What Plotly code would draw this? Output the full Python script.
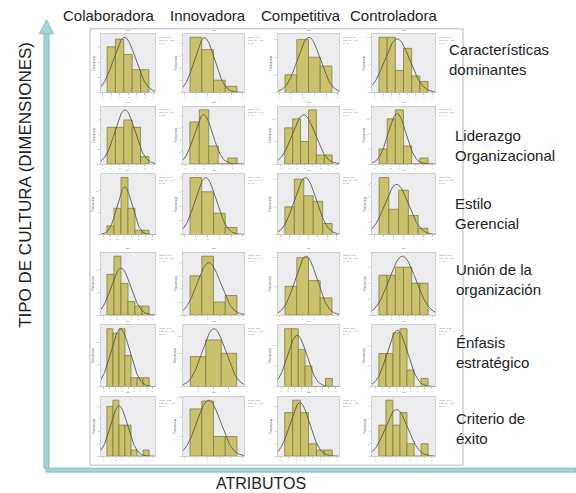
import numpy as np
import plotly.graph_objects as go

W, H = 576, 493

# ---------------- data (frequencies) ----------------
columnas = ["Colaboradora", "Innovadora", "Competitiva", "Controladora"]
dimensiones = ["Características<br>dominantes", "Liderazgo<br>Organizacional",
               "Estilo<br>Gerencial", "Unión de la<br>organización",
               "Énfasis<br>estratégico", "Criterio de<br>éxito"]

caracteristicas_dominantes = [[6, 7, 5, 3, 3], [9, 7, 2, 1], [2, 6, 4, 3], [10, 10, 4, 8, 3, 2]]
liderazgo_organizacional = [[5, 5, 6, 5, 1], [7, 9, 3, 0, 1], [8, 10, 5, 12, 2, 2], [5, 15, 18, 6, 0, 2]]
estilo_gerencial = [[2, 6, 13, 6, 1, 1], [8, 6, 3, 1], [5, 10, 7, 6, 2], [9, 4, 7, 3, 1]]
union_organizacion = [[9, 13, 7, 3, 2, 2], [6, 9, 2, 3], [5, 10, 6, 3], [5, 5, 6, 6, 4, 4]]
enfasis_estrategico = [[13, 12, 13, 7, 2, 2, 2], [9, 14, 10], [14, 14, 9, 5, 0, 0, 2], [8, 8, 13, 14, 4, 0, 2]]
criterio_exito = [[8, 9, 5, 5, 1, 0, 1], [12, 14, 5, 5], [7, 9, 7, 2, 1, 1], [5, 9, 5, 7, 2, 0, 2]]

filas = [caracteristicas_dominantes, liderazgo_organizacional, estilo_gerencial,
         union_organizacion, enfasis_estrategico, criterio_exito]

# ---------------- layout geometry (pixels) ----------------
col_px = [(101, 155), (183, 244), (278, 339), (372, 435)]
row_px = [(33, 92), (106, 164), (174, 235), (253, 316), (326, 388), (398, 458)]
label_y = [(50, 68), (137, 154), (205, 222), (272, 288), (345, 362), (422, 439)]
label_x = [447, 453, 453, 454, 454, 454]
header_x = [109, 208, 301, 393]


def px(x):
    return x / W


def py(y):
    return 1 - y / H


BAR = "#c9c16b"
BAR_LINE = "#77723d"
CURVE = "#5c5c4a"

fig = go.Figure()
layout = dict(
    width=W, height=H, margin=dict(l=0, r=0, t=0, b=0),
    paper_bgcolor="white", plot_bgcolor="#ececee", showlegend=False,
    font=dict(family="Liberation Sans, Arial, sans-serif", color="#222"),
)
annotations = []
shapes = []

# outer white frame
shapes.append(dict(type="rect", xref="paper", yref="paper",
                   x0=px(90), x1=px(463), y0=py(467), y1=py(28),
                   line=dict(color="#b8b8b8", width=1), fillcolor="rgba(0,0,0,0)", layer="below"))

for r, fila in enumerate(filas):
    for c, counts in enumerate(fila):
        i = r * 4 + c + 1
        xa = "x" if i == 1 else f"x{i}"
        ya = "y" if i == 1 else f"y{i}"
        counts = np.array(counts, dtype=float)
        n = len(counts)
        centers = np.arange(1, n + 1, dtype=float)
        N = counts.sum()
        mean = (counts * centers).sum() / N
        sd = np.sqrt((counts * (centers - mean) ** 2).sum() / N)
        pad = 0.125 * n + 0.1
        x0, x1 = 0.5 - pad, n + 0.5 + pad
        xs = np.linspace(x0, x1, 120)
        ys = N / (sd * np.sqrt(2 * np.pi)) * np.exp(-0.5 * ((xs - mean) / sd) ** 2)
        ymax = max(counts.max(), ys.max()) / 0.94

        fig.add_trace(go.Bar(x=centers, y=counts, width=1.0, xaxis=xa, yaxis=ya,
                             marker=dict(color=BAR, line=dict(color=BAR_LINE, width=0.7)),
                             hoverinfo="skip"))
        fig.add_trace(go.Scatter(x=xs, y=ys, mode="lines", xaxis=xa, yaxis=ya,
                                 line=dict(color=CURVE, width=0.9), hoverinfo="skip"))

        xl, xr = col_px[c]
        yt, yb = row_px[r]
        axfont = dict(size=2.5, color="#888")
        layout["xaxis" if i == 1 else f"xaxis{i}"] = dict(
            domain=[px(xl), px(xr)], anchor=ya, range=[x0, x1],
            showgrid=False, zeroline=False, showline=True, mirror=True,
            linecolor="#b0b0b0", linewidth=0.6, ticks="outside", ticklen=1.5,
            tickcolor="#888", tickwidth=0.5, tickfont=axfont, dtick=1)
        layout["yaxis" if i == 1 else f"yaxis{i}"] = dict(
            domain=[py(yb), py(yt)], anchor=xa, range=[0, ymax],
            showgrid=False, zeroline=False, showline=True, mirror=True,
            linecolor="#b0b0b0", linewidth=0.6, ticks="outside", ticklen=1.5,
            tickcolor="#888", tickwidth=0.5, tickfont=axfont, nticks=5,
            title=dict(text="Frecuencia", font=dict(size=3, color="#666"), standoff=1))

        # tiny SPSS-like panel title and statistics box
        annotations.append(dict(xref="paper", yref="paper", x=px((xl + xr) / 2), y=py(yt - 0.3),
                                xanchor="center", yanchor="bottom", showarrow=False,
                                text="Col", font=dict(size=2.5, color="#555")))
        stats = (f"Media ={mean:.2f}".replace(".", ",") + "<br>" +
                 f"Desv. típ. ={sd:.2f}".replace(".", ",") + f"<br>N ={int(N)}")
        annotations.append(dict(xref="paper", yref="paper", x=px(xr + 1.5), y=py(yt),
                                xanchor="left", yanchor="top", showarrow=False, align="left",
                                text=stats, font=dict(size=2.2, color="#777")))

# column headers
for name, cx in zip(columnas, header_x):
    annotations.append(dict(xref="paper", yref="paper", x=px(cx), y=py(15),
                            xanchor="center", yanchor="middle", showarrow=False,
                            text=name, font=dict(size=15, color="#222")))

# row labels
for lab, (y1, y2), lx in zip(dimensiones, label_y, label_x):
    annotations.append(dict(xref="paper", yref="paper", x=px(lx), y=py((y1 + y2) / 2),
                            xanchor="left", yanchor="middle", showarrow=False, align="left",
                            text=lab, font=dict(size=15, color="#222")))

# axis titles
annotations.append(dict(xref="paper", yref="paper", x=px(261), y=py(485),
                        xanchor="center", yanchor="middle", showarrow=False,
                        text="ATRIBUTOS", font=dict(size=16, color="#222")))
annotations.append(dict(xref="paper", yref="paper", x=px(26), y=py(185),
                        xanchor="center", yanchor="middle", showarrow=False, textangle=-90,
                        text="TIPO DE CULTURA (DIMENSIONES)", font=dict(size=17, color="#222")))

# arrows
ARROW = "#a2d5d8"
ARROW_LINE = "#86b7bb"
shapes.append(dict(type="rect", xref="paper", yref="paper",
                   x0=px(46), x1=px(576), y0=py(474), y1=py(470),
                   fillcolor=ARROW, line=dict(color=ARROW_LINE, width=1)))
shapes.append(dict(type="rect", xref="paper", yref="paper",
                   x0=px(44), x1=px(49), y0=py(470), y1=py(32),
                   fillcolor=ARROW, line=dict(color=ARROW_LINE, width=1)))
shapes.append(dict(type="path", xref="paper", yref="paper",
                   path=f"M {px(39.5)} {py(33)} L {px(53.5)} {py(33)} L {px(46.5)} {py(19)} Z",
                   fillcolor=ARROW, line=dict(color=ARROW_LINE, width=1)))

layout["annotations"] = annotations
layout["shapes"] = shapes
layout["bargap"] = 0
fig.update_layout(**layout)

fig.write_html("out.html", config={"displayModeBar": False, "staticPlot": True},
               post_script="document.body.style.margin='0';document.body.style.overflow='hidden';")
